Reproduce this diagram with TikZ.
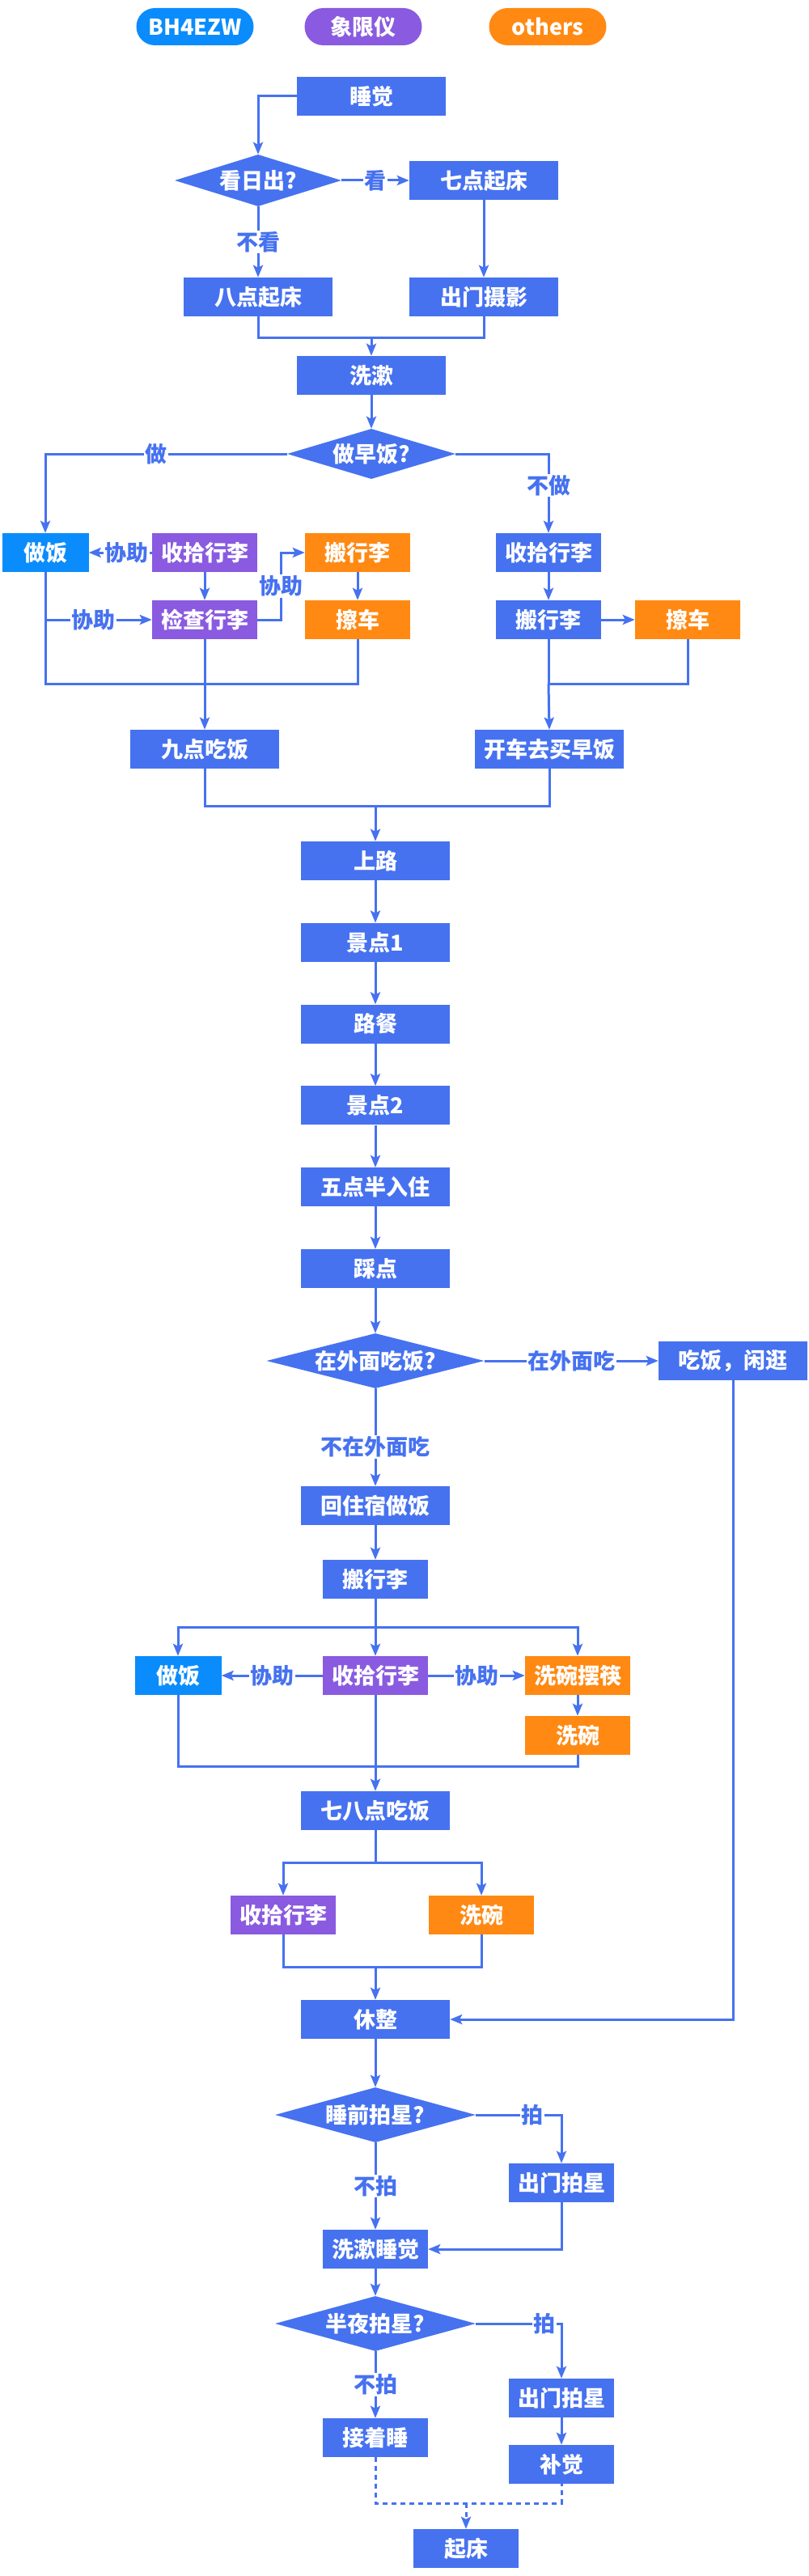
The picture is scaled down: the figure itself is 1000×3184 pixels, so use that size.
\documentclass[tikz,border=0pt]{standalone}
\usepackage{fontspec}
\setmainfont{Noto Sans CJK SC}
\usepackage{tikz}
\usetikzlibrary{arrows.meta,shapes.geometric}
\definecolor{mainblue}{HTML}{4672F0}
\definecolor{hamblue}{HTML}{0A8CFC}
\definecolor{xianpurple}{HTML}{8A5AE0}
\definecolor{otherorange}{HTML}{FF8912}
\newcommand{\boxtext}{\fontsize{27}{32}\selectfont\bfseries}
\newcommand{\edgetext}{\fontsize{27}{32}\selectfont\bfseries}
\tikzset{
	box/.style={
		shape = rectangle,
		fill = mainblue,
		text = white,
		font = \boxtext,
		minimum width = 184pt,
		minimum height = 48pt,
		inner sep = 0pt
	},
	mid/.style={box, minimum width = 130pt},
	ham/.style={box, fill = hamblue, minimum width = 107pt},
	xian/.style={box, fill = xianpurple, minimum width = 130pt},
	other/.style={box, fill = otherorange, minimum width = 130pt},
	ask/.style={
		shape = diamond,
		fill = mainblue,
		text = white,
		font = \boxtext,
		inner sep = 0pt
	},
	pill/.style={
		rounded corners = 23pt,
		text = white,
		font = \boxtext,
		minimum width = 145pt,
		minimum height = 46pt,
		inner sep = 0pt
	},
	lbl/.style={
		fill = white,
		text = mainblue,
		font = \edgetext,
		inner sep = 1.5pt
	},
	link/.style={
		draw = mainblue,
		line width = 3pt
	},
}
\tikzset{>={Stealth[length=15pt,width=12pt,inset=3pt]}}

\begin{document}
\begin{tikzpicture}[x=1pt, y=-1pt]
    \useasboundingbox (0,0) rectangle (1000,3184);
    % legend
    \node[pill, fill=hamblue] (keyham) at (241,33) {BH4EZW};
    \node[pill, fill=xianpurple] (keyxian) at (449,33) {象限仪};
    \node[pill, fill=otherorange] (keyother) at (677,33) {others};

    % morning
    \node[box] (sleep) at (459,119) {睡觉};
    \node[ask, minimum width=206pt, minimum height=64pt, aspect=3.2] (sunrise) at (319,223) {看日出?};
    \node[box] (up7) at (598,223) {七点起床};
    \node[box] (up8) at (319,367) {八点起床};
    \node[box] (shoot) at (598,367) {出门摄影};
    \node[box] (wash) at (459,464) {洗漱};
    \node[ask, minimum width=208pt, minimum height=62pt, aspect=3.3] (bfast) at (459,561) {做早饭?};
    \coordinate (jM) at (459,417);

    \draw[link,->] (sleep.west) -| (sunrise.north);
    \draw[link,->] (sunrise.east) -- node[lbl]{看} (up7.west);
    \draw[link,->] (sunrise.south) -- node[lbl]{不看} (up8.north);
    \draw[link,->] (up7) -- (shoot);
    \draw[link] (up8.south) |- (jM) -| (shoot.south);
    \draw[link,->] (jM) -- (wash.north);
    \draw[link,->] (wash) -- (bfast);

    % breakfast
    \node[ham] (cookA) at (56,683) {做饭};
    \node[xian] (packA) at (253,683) {收拾行李};
    \node[other] (carryA) at (442,683) {搬行李};
    \node[xian] (checkA) at (253,766) {检查行李};
    \node[other] (wipeA) at (442,766) {擦车};
    \node[mid] (packB) at (678,683) {收拾行李};
    \node[mid] (carryB) at (678,766) {搬行李};
    \node[other] (wipeB) at (850,766) {擦车};
    \node[box] (eat9) at (253,926) {九点吃饭};
    \node[box] (buy) at (679,926) {开车去买早饭};
    \coordinate (bendA) at (347,766);
    \coordinate (jA) at (253,845);
    \coordinate (jB) at (678,845);
    \coordinate (jR) at (464,996);

    \draw[link,->] (bfast.west) -| node[lbl,pos=0.27]{做} (cookA.north);
    \draw[link,->] (bfast.east) -| node[lbl,pos=0.7]{不做} (packB.north);
    \draw[link,->] (packA.west) -- node[lbl,pos=0.4]{协助} (cookA.east);
    \draw[link,->] (packA) -- (checkA);
    \draw[link,->] (carryA) -- (wipeA);
    \draw[link,->] (cookA.south |- checkA.west) -- node[lbl,pos=0.45]{协助} (checkA.west);
    \draw[link,->] (checkA.east) -- (bendA) |- node[lbl,pos=0.25]{协助} (carryA.west);
    \draw[link] (cookA.south) |- (jA) -| (wipeA.south);
    \draw[link,->] (checkA.south) -- (eat9.north);
    \draw[link,->] (packB) -- (carryB);
    \draw[link,->] (carryB) -- (wipeB);
    \draw[link] (carryB.south) -- (jB) -| (wipeB.south);
    \draw[link,->] (jB) -- (buy.north);
    \draw[link] (eat9.south) |- (jR) -| (buy.south);

    % on the road
    \foreach \name/\txt [count=\i from 0] in {road/上路, spot1/景点1, lunch/路餐, spot2/景点2, checkin/五点半入住, scout/踩点}{
      \node[box] (\name) at (464,{1064+100.8*\i}) {\txt};
    }
    \draw[link,->] (jR) -- (road.north);
    \foreach \a/\b in {road/spot1, spot1/lunch, lunch/spot2, spot2/checkin, checkin/scout}{
      \draw[link,->] (\a) -- (\b);
    }

    % evening
    \node[ask, minimum width=269pt, minimum height=68pt, aspect=3.96] (eatout) at (464,1682) {在外面吃饭?};
    \node[box] (stroll) at (906,1682) {吃饭，闲逛};
    \node[box] (home) at (464,1861) {回住宿做饭};
    \node[mid] (carryC) at (464,1952) {搬行李};
    \node[ham] (cookC) at (220,2071) {做饭};
    \node[xian] (packC) at (464,2071) {收拾行李};
    \node[other] (setC) at (714,2071) {洗碗摆筷};
    \node[other] (dishC) at (714,2145) {洗碗};
    \node[box] (eat78) at (464,2238) {七八点吃饭};
    \node[xian] (packD) at (350,2367) {收拾行李};
    \node[other] (dishD) at (595,2367) {洗碗};
    \node[box] (rest) at (464,2496) {休整};
    \coordinate (sC) at (464,2011);
    \coordinate (jC) at (464,2183);
    \coordinate (sD) at (464,2302);
    \coordinate (jD) at (464,2431);

    \draw[link,->] (scout) -- (eatout);
    \draw[link,->] (eatout.east) -- node[lbl]{在外面吃} (stroll.west);
    \draw[link,->] (eatout.south) -- node[lbl,pos=0.6]{不在外面吃} (home.north);
    \draw[link,->] (home) -- (carryC);
    \draw[link] (carryC.south) -- (sC);
    \draw[link,->] (sC) -| (cookC.north);
    \draw[link,->] (sC) -| (setC.north);
    \draw[link,->] (sC) -- (packC.north);
    \draw[link,->] (packC.west) -- node[lbl]{协助} (cookC.east);
    \draw[link,->] (packC.east) -- node[lbl]{协助} (setC.west);
    \draw[link,->] (setC) -- (dishC);
    \draw[link] (cookC.south) |- (jC) -| (dishC.south);
    \draw[link,->] (packC.south) -- (eat78.north);
    \draw[link] (eat78.south) -- (sD);
    \draw[link,->] (sD) -| (packD.north);
    \draw[link,->] (sD) -| (dishD.north);
    \draw[link] (packD.south) |- (jD) -| (dishD.south);
    \draw[link,->] (jD) -- (rest.north);
    \draw[link,->] (stroll.south) |- (rest.east);

    % night
    \node[ask, minimum width=248pt, minimum height=68pt, aspect=3.65] (star1) at (464,2614) {睡前拍星?};
    \node[mid] (goA) at (694,2698) {出门拍星};
    \node[mid] (bed) at (464,2780) {洗漱睡觉};
    \node[ask, minimum width=248pt, minimum height=68pt, aspect=3.65] (star2) at (464,2872) {半夜拍星?};
    \node[mid] (goB) at (694,2964) {出门拍星};
    \node[mid] (nap) at (694,3046) {补觉};
    \node[mid] (keep) at (464,3013) {接着睡};
    \node[mid] (getup) at (576,3150) {起床};
    \coordinate (jE) at (576,3094);

    \draw[link,->] (rest) -- (star1);
    \draw[link,->] (star1.east) -| node[lbl,pos=0.33]{拍} (goA.north);
    \draw[link,->] (star1.south) -- node[lbl]{不拍} (bed.north);
    \draw[link,->] (goA.south) |- (bed.east);
    \draw[link,->] (bed) -- (star2);
    \draw[link,->] (star2.east) -| node[lbl,pos=0.4]{拍} (goB.north);
    \draw[link,->] (star2.south) -- node[lbl]{不拍} (keep.north);
    \draw[link,->] (goB) -- (nap);
    \draw[link,dash pattern=on 6pt off 5pt] (keep.south) |- (jE) -| (nap.south);
    \draw[link,dash pattern=on 6pt off 5pt,->] (jE) -- (getup.north);
\end{tikzpicture}
\end{document}
